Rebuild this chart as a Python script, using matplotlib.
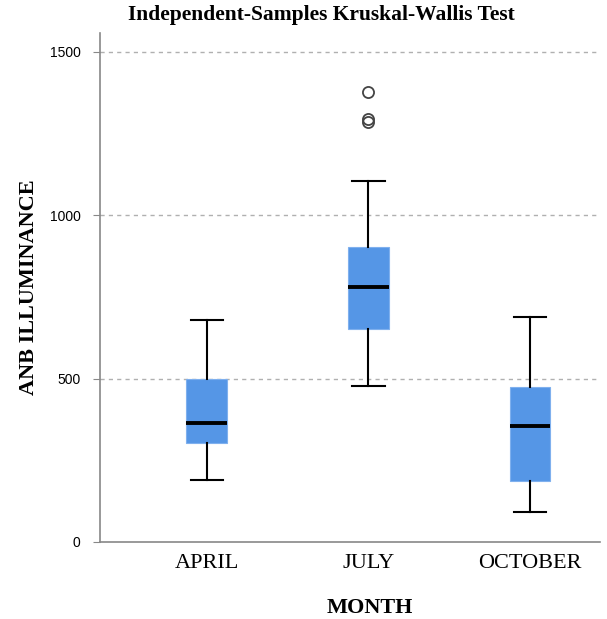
import matplotlib.pyplot as plt
import numpy as np

months = ["APRIL", "JULY", "OCTOBER"]
q1 = [302, 651, 187]
median = [365, 780, 355]
q3 = [500, 902, 475]
whisker_low = [190, 478, 91]
whisker_high = [680, 1104, 690]
outliers = [[], [1378, 1295, 1287], []]

box_color = "#5596e6"

fig = plt.figure(figsize=(6.07, 6.19), dpi=100)
ax = fig.add_axes([0.1647, 0.1244, 0.8233, 0.8223])

stats = []
for i in range(len(months)):
    stats.append(dict(label=months[i], q1=q1[i], med=median[i], q3=q3[i],
                      whislo=whisker_low[i], whishi=whisker_high[i],
                      fliers=outliers[i]))

ax.bxp(stats, positions=[1, 2, 3], widths=0.25, patch_artist=True,
       boxprops=dict(facecolor=box_color, edgecolor="#7fb0ee", linewidth=0.8),
       medianprops=dict(color="black", linewidth=2.8),
       whiskerprops=dict(color="black", linewidth=1.5),
       capprops=dict(color="black", linewidth=1.5),
       capwidths=0.2,
       flierprops=dict(marker="o", markerfacecolor="none", markeredgecolor="#444444",
                       markersize=8, markeredgewidth=1.3))

ax.set_xlim(0.34, 3.43)
ax.set_ylim(0, 1558)
ax.set_yticks([0, 500, 1000, 1500])
ax.set_yticklabels(["0", "500", "1000", "1500"], family="Liberation Sans", fontsize=10)
ax.set_xticks([1, 2, 3])
ax.set_xticklabels(months, family="Liberation Serif", fontsize=16)

for y in [500, 1000, 1500]:
    ax.axhline(y, color="#b0b0b0", linestyle=(0, (3, 3)), linewidth=1, zorder=0)

for side in ["top", "right"]:
    ax.spines[side].set_visible(False)
ax.spines["left"].set_color("#888888")
ax.spines["bottom"].set_color("#888888")
ax.spines["left"].set_linewidth(1.2)
ax.spines["bottom"].set_linewidth(1.2)
ax.tick_params(axis="y", length=5, color="#888888", pad=9)
ax.tick_params(axis="x", length=0, pad=9)

ax.set_xlabel("MONTH", family="Liberation Serif", fontsize=16, fontweight="bold")
ax.xaxis.set_label_coords(0.54, -0.11)
ax.set_ylabel("ANB ILLUMINANCE", family="Liberation Serif", fontsize=16, fontweight="bold")
ax.yaxis.set_label_coords(-0.122, 0.5)
fig.text(0.53, 0.975, "Independent-Samples Kruskal-Wallis Test", ha="center", va="center",
         family="Liberation Serif", fontsize=15.5, fontweight="bold")

fig.savefig("out.png", dpi=100)
